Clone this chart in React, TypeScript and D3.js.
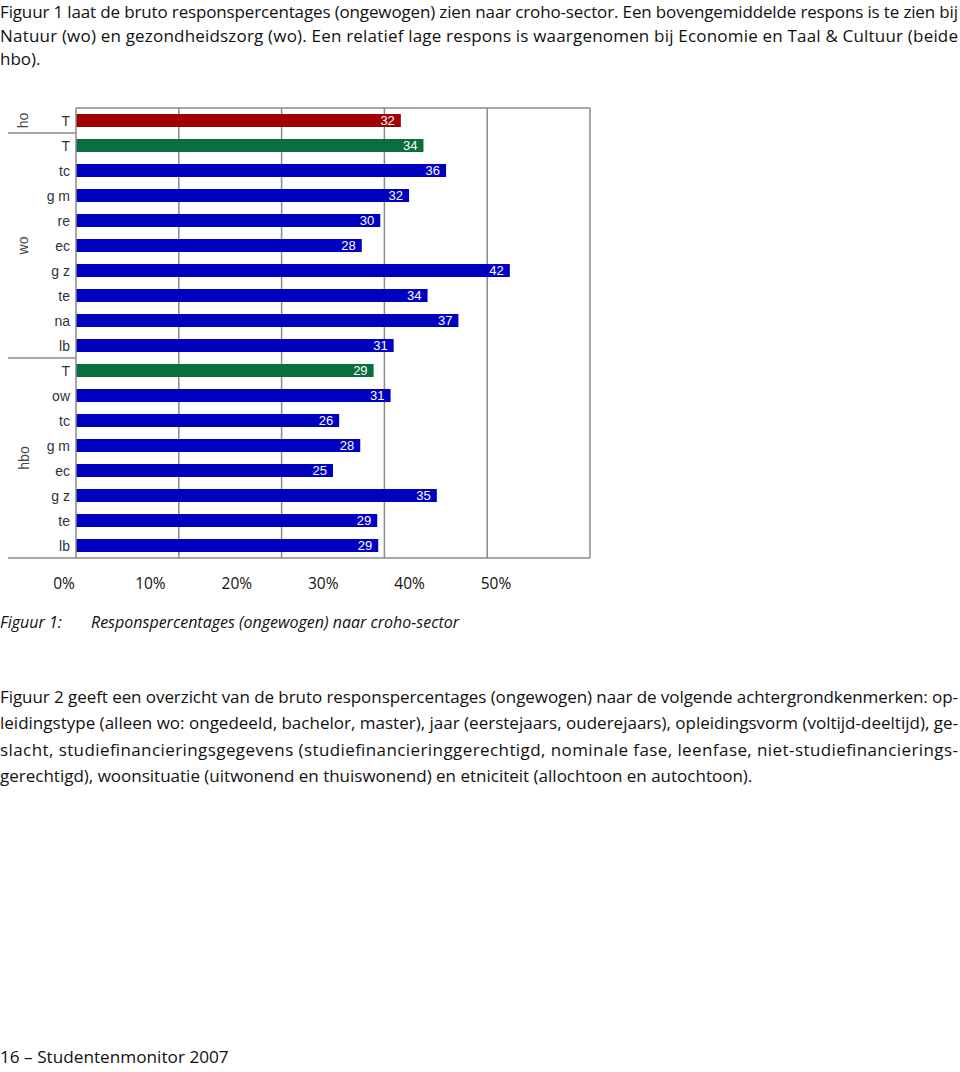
import React from 'react';
import * as d3 from 'd3';

// Categories per row (top to bottom), grouped by sector
const groups = ['ho', 'wo', 'hbo'];
const rowGroups = ['ho', 'wo', 'wo', 'wo', 'wo', 'wo', 'wo', 'wo', 'wo', 'wo',
    'hbo', 'hbo', 'hbo', 'hbo', 'hbo', 'hbo', 'hbo', 'hbo'];
const rowLabels = ['T', 'T', 'tc', 'g m', 're', 'ec', 'g z', 'te', 'na', 'lb',
    'T', 'ow', 'tc', 'g m', 'ec', 'g z', 'te', 'lb'];
// kind: total for all of ho, total for a sector, or a croho-sector
const rowKinds = ['all', 'sector', 'item', 'item', 'item', 'item', 'item', 'item', 'item', 'item',
    'sector', 'item', 'item', 'item', 'item', 'item', 'item', 'item'];
// response percentage (labels are rounded)
const responseValues = [31.6, 33.8, 36.0, 32.4, 29.6, 27.8, 42.2, 34.2, 37.2, 30.9,
    28.95, 30.6, 25.6, 27.65, 25.0, 35.1, 29.3, 29.4];
const xTicks = [0, 10, 20, 30, 40, 50];

const introLines = [
    'Figuur 1 laat de bruto responspercentages (ongewogen) zien naar croho-sector. Een bovengemiddelde respons is te zien bij',
    'Natuur (wo) en gezondheidszorg (wo). Een relatief lage respons is waargenomen bij Economie en Taal & Cultuur (beide',
    'hbo).'
];
const captionLabel = 'Figuur 1:';
const captionText = 'Responspercentages (ongewogen) naar croho-sector';
const bodyLines = [
    'Figuur 2 geeft een overzicht van de bruto responspercentages (ongewogen) naar de volgende achtergrondkenmerken: op-',
    'leidingstype (alleen wo: ongedeeld, bachelor, master), jaar (eerstejaars, ouderejaars), opleidingsvorm (voltijd-deeltijd), ge-',
    'slacht, studiefinancieringsgegevens (studiefinancieringgerechtigd, nominale fase, leenfase, niet-studiefinancierings-',
    'gerechtigd), woonsituatie (uitwonend en thuiswonend) en etniciteit (allochtoon en autochtoon).'
];
const footerText = '16 \u2013 Studentenmonitor 2007';

const WIDTH = 960;
const HEIGHT = 1072;
const TEXT_FONT = '"Open Sans", sans-serif';
const CHART_FONT = '"Liberation Sans", Arial, sans-serif';

function barColor(kind: string): string {
    switch (kind) {
        case 'all': return '#A00000';
        case 'sector': return '#0A6E3E';
        default: return '#0000C0';
    }
}

export default function App() {
    const plot = { left: 76, right: 590, top: 108, bottom: 558 };

    const x = d3.scaleLinear().domain([0, 50]).range([plot.left, plot.right]);
    // tick labels in the original sit on their own, slightly narrower, run
    const xLabel = d3.scaleLinear().domain([0, 50]).range([64, 496]);
    const rows = d3.range(rowLabels.length);
    const y = d3.scaleBand<number>()
        .domain(rows)
        .range([plot.top, plot.bottom])
        .paddingInner(0.48)
        .paddingOuter(0.24);
    const step = y.step();

    const groupInfo = groups.map(g => {
        const idx = rows.filter(i => rowGroups[i] === g);
        const top = (y(idx[0]) as number) - y.paddingInner() * step / 2;
        const bottom = top + idx.length * step;
        return { g, top, bottom, mid: (top + bottom) / 2 };
    });

    const fmt = d3.format('.0f');

    return (
        <svg
            width={WIDTH}
            height={HEIGHT}
            style={{ position: 'absolute', left: 0, top: 0, background: '#fff' }}
        >
            {/* intro paragraph */}
            <g fontFamily={TEXT_FONT} fontSize={17} fill="#111">
                {introLines.map((line, i) => (
                    <text
                        key={i}
                        x={0}
                        y={18 + i * 23.5}
                        textLength={i < introLines.length - 1 ? 958 : undefined}
                        lengthAdjust="spacing"
                    >{line}</text>
                ))}
            </g>

            {/* gridlines */}
            <g stroke="#8a8a8a" strokeWidth={1.5}>
                {xTicks.slice(1, -1).map(t => (
                    <line key={t} x1={x(t)} x2={x(t)} y1={plot.top} y2={plot.bottom} />
                ))}
            </g>

            {/* bars */}
            <g>
                {rows.map(i => (
                    <rect
                        key={i}
                        x={x(0)}
                        y={y(i)}
                        width={x(responseValues[i]) - x(0)}
                        height={y.bandwidth()}
                        fill={barColor(rowKinds[i])}
                    />
                ))}
            </g>

            {/* value labels */}
            <g fontFamily={CHART_FONT} fontSize={13} fill="#fff" textAnchor="end">
                {rows.map(i => (
                    <text
                        key={i}
                        x={x(responseValues[i]) - 6}
                        y={(y(i) as number) + y.bandwidth() / 2}
                        dy="0.36em"
                    >{fmt(responseValues[i])}</text>
                ))}
            </g>

            {/* plot frame */}
            <g stroke="#8a8a8a" strokeWidth={1.5} fill="none">
                <line x1={plot.left} x2={plot.right} y1={plot.top} y2={plot.top} />
                <line x1={plot.right} x2={plot.right} y1={plot.top} y2={plot.bottom} />
                <line x1={plot.left} x2={plot.left} y1={plot.top} y2={plot.bottom} />
                <line x1={8} x2={plot.right} y1={plot.bottom} y2={plot.bottom} />
                {groupInfo.slice(1).map(gi => (
                    <line key={gi.g} x1={8} x2={plot.left} y1={gi.top} y2={gi.top} />
                ))}
            </g>

            {/* category labels */}
            <g fontFamily={CHART_FONT} fontSize={14} fill="#333" textAnchor="end">
                {rows.map(i => (
                    <text
                        key={i}
                        x={70}
                        y={(y(i) as number) + y.bandwidth() / 2}
                        dy="0.36em"
                    >{rowLabels[i]}</text>
                ))}
            </g>

            {/* group labels */}
            <g fontFamily={CHART_FONT} fontSize={14} fill="#444" textAnchor="middle">
                {groupInfo.map(gi => (
                    <text
                        key={gi.g}
                        transform={`translate(${gi.g === 'hbo' ? 29 : 28},${gi.mid}) rotate(-90)`}
                    >{gi.g}</text>
                ))}
            </g>

            {/* x tick labels */}
            <g fontFamily={TEXT_FONT} fontSize={15.5} fill="#111" textAnchor="middle">
                {xTicks.map(t => (
                    <text key={t} x={xLabel(t)} y={589}>{`${t}%`}</text>
                ))}
            </g>

            {/* caption */}
            <g fontFamily={TEXT_FONT} fontSize={16} fontStyle="italic" fill="#111">
                <text x={0} y={628}>{captionLabel}</text>
                <text x={91} y={628}>{captionText}</text>
            </g>

            {/* second paragraph */}
            <g fontFamily={TEXT_FONT} fontSize={17} fill="#111">
                {bodyLines.map((line, i) => (
                    <text
                        key={i}
                        x={0}
                        y={703 + i * 26.3}
                        textLength={i < bodyLines.length - 1 ? 958 : undefined}
                        lengthAdjust="spacing"
                    >{line}</text>
                ))}
            </g>

            {/* footer */}
            <text x={0} y={1063} fontFamily={TEXT_FONT} fontSize={17.2} fill="#111">{footerText}</text>
        </svg>
    );
}
